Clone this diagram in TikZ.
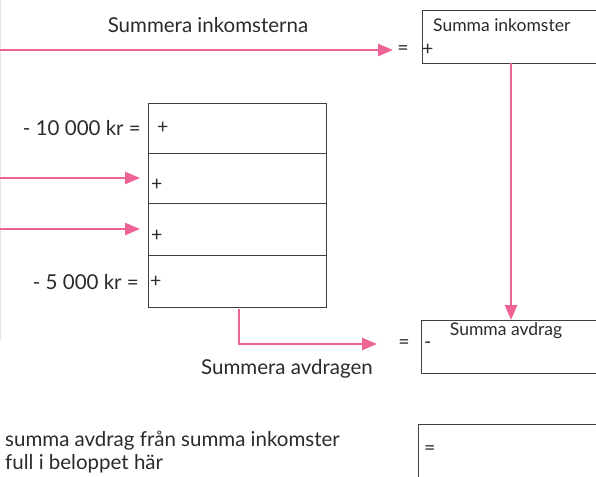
\documentclass[tikz,border=0pt]{standalone}
\usepackage{fontspec}
\setmainfont{Lato}
\usetikzlibrary{arrows.meta}
\definecolor{pk}{HTML}{EE6396}
\definecolor{ink}{HTML}{2B2B2B}
\begin{document}
\begin{tikzpicture}[x=1pt,y=-1pt,
  conn/.style={draw=pk,line width=2.6pt,-{Triangle[length=15pt,width=12pt]}},
  boxline/.style={draw=ink!90,line width=0.9pt},
  big/.style={font=\fontsize{20.5}{24}\selectfont,text=ink,inner sep=0pt},
  small/.style={font=\fontsize{17.5}{20}\selectfont,text=ink,inner sep=0pt},
  mid/.style={font=\fontsize{19.5}{22}\selectfont,text=ink,inner sep=0pt}]
\useasboundingbox[fill=white] (0,0) rectangle (596,476);
\draw[gray!20,line width=0.8pt] (0.5,0) -- (0.5,340);
% top
\node[big] (t1) at (208,25) {Summera inkomsterna};
\coordinate (s1) at (0,50);
\coordinate (e1) at (393,50);
\draw[conn] (s1) -- (e1);
\node[mid] (eq1) at (403,50) {=};
\node[boxline,minimum width=200pt,minimum height=53pt,anchor=north west,inner sep=0pt] (bi) at (422,10) {};
\node[small,anchor=west] (bit) at (433,25) {Summa inkomster};
\node[mid,anchor=west] (bip) at (422,50) {+};
% table
\foreach \i/\ya/\yb in {1/103/153,2/153/203,3/203/255,4/255/307}{
  \node[boxline,minimum width=178pt,minimum height={\yb-\ya},anchor=north west,inner sep=0pt] (r\i) at (148,\ya) {};
}
\node[big,anchor=east] (l1) at (141,128) {- 10 000 kr =};
\node[mid,anchor=west] (p1) at (157,128) {+};
\node[mid,anchor=west] (p2) at (151,185) {+};
\node[mid,anchor=west] (p3) at (151,236) {+};
\node[big,anchor=east] (l4) at (139,282) {- 5 000 kr =};
\node[mid,anchor=west] (p4) at (150,282) {+};
\coordinate (s2) at (0,178);
\coordinate (e2) at (140,178);
\coordinate (s3) at (0,229);
\coordinate (e3) at (140,229);
\draw[conn] (s2) -- (e2);
\draw[conn] (s3) -- (e3);
% vertical
\coordinate (v1) at (511,63);
\coordinate (v2) at (511,320);
\draw[conn] (v1) -- (v2);
% bottom connector
\coordinate (b1) at (239,309);
\coordinate (b2) at (377,344);
\draw[conn] (b1) |- (b2);
\node[mid] (eq2) at (404,344) {=};
\node[boxline,minimum width=200pt,minimum height=53pt,anchor=north west,inner sep=0pt] (ba) at (421,320) {};
\node[mid,anchor=west] (bam) at (424,345) {-};
\node[small] (bat) at (506,331) {Summa avdrag};
\node[big] (t2) at (287,369) {Summera avdragen};
% final
\node[big,anchor=west] (f1) at (5,441) {summa avdrag från summa inkomster};
\node[big,anchor=west] (f2) at (5,464) {full i beloppet här};
\node[boxline,minimum width=200pt,minimum height=70pt,anchor=north west,inner sep=0pt] (bf) at (418,424) {};
\node[mid,anchor=west] (feq) at (424,450) {=};
\end{tikzpicture}
\end{document}
